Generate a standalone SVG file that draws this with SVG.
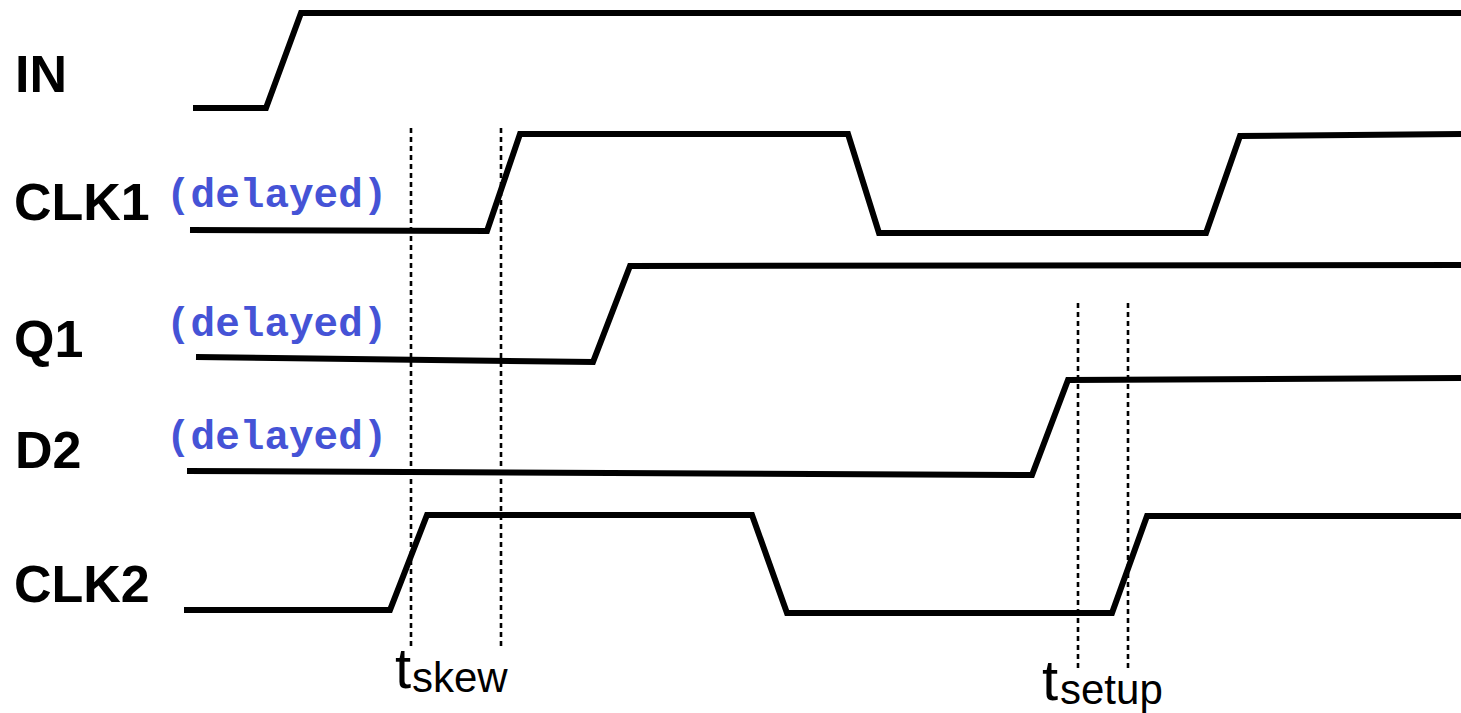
<svg xmlns="http://www.w3.org/2000/svg" width="1461" height="713" viewBox="0 0 1461 713">
<style>
.sig{fill:none;stroke:#000;stroke-width:6;stroke-linejoin:miter}
.dash{fill:none;stroke:#000;stroke-width:2.6;stroke-dasharray:5 4}
.lbl{font-family:"Liberation Sans",Arial,sans-serif;font-weight:bold;font-size:52px;fill:#000}
.dly{font-family:"Liberation Mono","Courier New",monospace;font-weight:bold;font-size:41px;fill:#4553D6}
.t{font-family:"Liberation Sans",Arial,sans-serif;fill:#000}
</style>
<rect width="1461" height="713" fill="#fff"/>
<g id="connectors">
<polyline class="sig" points="193,108 266,108 301,13 1461,13"/>
<polyline class="sig" points="190,230 487,231 520,134 848,134 879,233 1206,233 1240,136 1461,134"/>
<polyline class="sig" points="196,357 593,362 630,266 1461,265"/>
<polyline class="sig" points="187,471 1032,475 1068,380 1461,378"/>
<polyline class="sig" points="184,610 390,610 427,515 752,515 787,613 1112,613 1147,516 1461,516"/>
<line class="dash" x1="411" y1="128" x2="411" y2="647"/>
<line class="dash" x1="501" y1="128" x2="501" y2="647"/>
<line class="dash" x1="1078" y1="303" x2="1078" y2="670"/>
<line class="dash" x1="1128" y1="303" x2="1128" y2="670"/>
</g>
<g id="IN"><text class="lbl" x="15" y="92">IN</text></g>
<g id="CLK1"><text class="lbl" x="14" y="220">CLK1</text><text class="dly" x="166" y="207">(delayed)</text></g>
<g id="Q1"><text class="lbl" x="14" y="357">Q1</text><text class="dly" x="166" y="336">(delayed)</text></g>
<g id="D2"><text class="lbl" x="15" y="468">D2</text><text class="dly" x="166" y="449">(delayed)</text></g>
<g id="CLK2"><text class="lbl" x="14" y="602">CLK2</text></g>
<g id="tskew"><text class="t" x="395" y="688" font-size="58">t</text><text class="t" x="412" y="692" font-size="42">skew</text></g>
<g id="tsetup"><text class="t" x="1042" y="700" font-size="58">t</text><text class="t" x="1060" y="704" font-size="42">setup</text></g>
</svg>
